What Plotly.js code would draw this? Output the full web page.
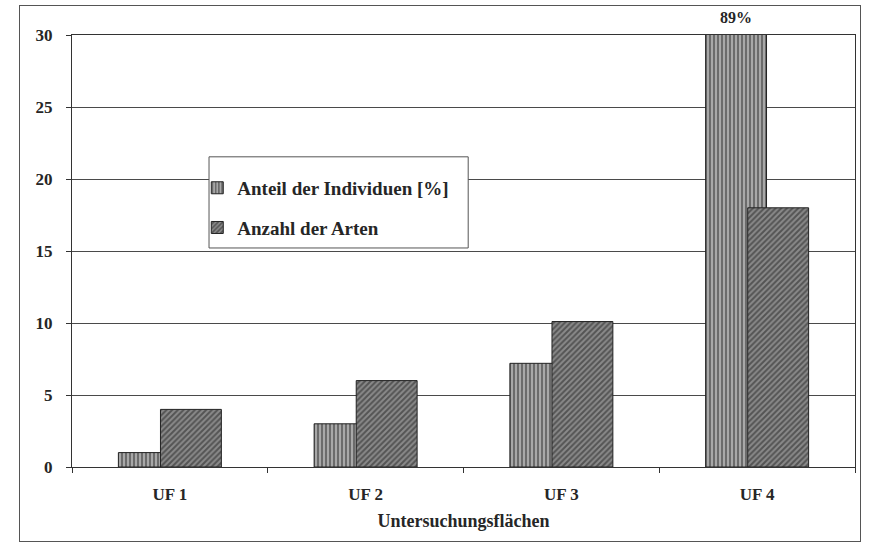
<!DOCTYPE html>
<html><head><meta charset="utf-8">
<script src="https://cdn.plot.ly/plotly-3.0.1.min.js"></script>
<style>
html,body{margin:0;padding:0;background:#fff;}
#wrap{position:relative;width:877px;height:543px;}
#chart{position:absolute;left:0;top:0;width:877px;height:543px;}
#frame{position:absolute;left:19px;top:5px;width:840px;height:535px;border:1px solid #555;pointer-events:none;}
</style></head>
<body>
<div id="wrap"><div id="chart"></div><div id="frame"></div></div>
<script>
const categories = ['UF 1', 'UF 2', 'UF 3', 'UF 4'];
const anteilIndividuen = [1, 3, 7.2, 89];
const anzahlArten = [4, 6, 10.1, 18];
const yTicks = [0, 5, 10, 15, 20, 25, 30];
const seriesNames = ['Anteil der Individuen [%]', 'Anzahl der Arten'];
const xTitle = 'Untersuchungsflächen';

const font = {family: 'Liberation Serif, Times New Roman, serif', color: '#262626', weight: 'bold'};

const traces = [
  {type: 'bar', name: seriesNames[0], x: categories, y: anteilIndividuen,
   width: 0.311, offset: -0.263, legendgroup: 'a',
   marker: {color: '#ffffff', line: {color: '#222', width: 1},
            pattern: {shape: '|', size: 4, solidity: 0.6, fgcolor: '#1e1e1e', bgcolor: '#b8b8b8', fillmode: 'overlay'}},
   cliponaxis: true, hoverinfo: 'skip'},
  {type: 'bar', name: seriesNames[1], x: categories, y: anzahlArten,
   width: 0.311, offset: -0.048, legendgroup: 'b',
   marker: {color: '#ffffff', line: {color: '#222', width: 1},
            pattern: {shape: '/', size: 4, solidity: 0.5, fgcolor: '#1e1e1e', bgcolor: '#8a8a8a', fillmode: 'overlay'}},
   cliponaxis: true, hoverinfo: 'skip'}
];

const layout = {
  width: 877, height: 543,
  margin: {l: 72, r: 22, t: 35, b: 76},
  paper_bgcolor: '#fff', plot_bgcolor: '#fff',
  barmode: 'overlay',
  showlegend: true,
  font: Object.assign({size: 14}, font),
  legend: {x: 0.16, y: 0.69, xanchor: 'left', yanchor: 'top',
           bgcolor: 'rgba(0,0,0,0)', borderwidth: 0,
           font: Object.assign({size: 19}, font), tracegroupgap: 12, traceorder: 'grouped'},
  shapes: [{type: 'rect', xref: 'paper', yref: 'paper', x0: 0.175, x1: 0.506, y0: 0.507, y1: 0.718,
            fillcolor: '#fff', line: {color: '#555', width: 1}, layer: 'above'}],
  xaxis: {type: 'category', range: [-0.5, 3.5], showline: true, linecolor: '#333', linewidth: 1,
          mirror: true, ticks: 'outside', tickson: 'boundaries', ticklen: 5, tickcolor: '#333',
          showgrid: false, ticklabelstandoff: 12, tickfont: Object.assign({size: 17}, font),
          title: {text: xTitle, font: Object.assign({size: 18}, font), standoff: 10}},
  yaxis: {range: [0, 30], tickvals: yTicks, ticktext: yTicks.map(String), showline: true,
          linecolor: '#333', linewidth: 1, mirror: true, ticks: 'outside', ticklen: 5, tickcolor: '#333',
          showgrid: true, gridcolor: '#4a4a4a', gridwidth: 1, zeroline: false,
          ticklabelstandoff: 10, tickfont: Object.assign({size: 17}, font)},
  annotations: [{x: categories[3], y: 30, xref: 'x', yref: 'y', xshift: -21, yshift: 7,
                 yanchor: 'bottom', text: anteilIndividuen[3] + '%', showarrow: false,
                 font: Object.assign({size: 16}, font)}]
};

Plotly.newPlot('chart', traces, layout, {displayModeBar: false, staticPlot: true});
</script>
</body></html>
